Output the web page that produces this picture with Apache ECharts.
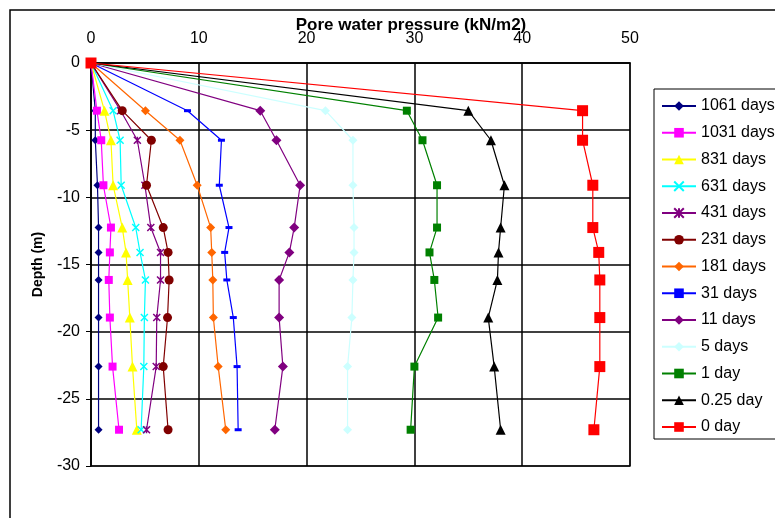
<!DOCTYPE html>
<html>
<head>
<meta charset="utf-8">
<script src="https://cdn.jsdelivr.net/npm/echarts@6/dist/echarts.min.js"></script>
<style>
html,body{margin:0;padding:0;background:#fff;}
#chart{width:775px;height:518px;}
</style>
</head>
<body>
<div id="chart"></div>
<script>
// Depths (m), shared by all series
var depths = [0, -3.55, -5.75, -9.1, -12.25, -14.1, -16.15, -18.95, -22.6, -27.3];

// Series names
var seriesNames = ['1061 days','1031 days','831 days','631 days','431 days','231 days','181 days','31 days','11 days','5 days','1 day','0.25 day','0 day'];

// Pore water pressure values (kN/m2) at each depth
var p1061 = [0, 0.4, 0.4, 0.6, 0.7, 0.7, 0.7, 0.7, 0.7, 0.7];
var p1031 = [0, 0.55, 0.95, 1.15, 1.85, 1.75, 1.65, 1.75, 2.0, 2.6];
var p831  = [0, 1.25, 1.85, 2.05, 2.9, 3.25, 3.4, 3.6, 3.85, 4.25];
var p631  = [0, 2.05, 2.7, 2.8, 4.15, 4.55, 5.05, 4.95, 4.9, 4.65];
var p431  = [0, 2.75, 4.3, 5.0, 5.55, 6.45, 6.45, 6.1, 6.05, 5.15];
var p231  = [0, 2.9, 5.6, 5.15, 6.7, 7.15, 7.25, 7.1, 6.7, 7.15];
var p181  = [0, 5.05, 8.25, 9.85, 11.1, 11.2, 11.3, 11.35, 11.8, 12.5];
var p31   = [0, 8.95, 12.1, 11.9, 12.8, 12.4, 12.6, 13.2, 13.55, 13.65];
var p11   = [0, 15.7, 17.2, 19.4, 18.85, 18.4, 17.45, 17.45, 17.8, 17.05];
var p5    = [0, 21.75, 24.3, 24.3, 24.4, 24.4, 24.3, 24.2, 23.8, 23.8];
var p1    = [0, 29.3, 30.75, 32.1, 32.1, 31.4, 31.85, 32.2, 30.0, 29.65];
var p025  = [0, 35.0, 37.1, 38.35, 38.0, 37.8, 37.7, 36.85, 37.4, 38.0];
var p0    = [0, 45.6, 45.6, 46.55, 46.55, 47.1, 47.2, 47.2, 47.2, 46.65];

// Axis ticks
var xTicks = [0, 10, 20, 30, 40, 50];
var yTicks = [0, -5, -10, -15, -20, -25, -30];

var xTitle = 'Pore water pressure (kN/m2)';
var yTitle = 'Depth (m)';

var values = [p1061, p1031, p831, p631, p431, p231, p181, p31, p11, p5, p1, p025, p0];
var colors = ['#000080','#FF00FF','#FFFF00','#00FFFF','#800080','#800000','#FF6600','#0000FF','#800080','#CCFFFF','#008000','#000000','#FF0000'];
var symbols = ['diamond','rect','triangle','path://M0,0L10,10M10,0L0,10','path://M0,0L10,10M10,0L0,10M5,0L5,10','circle','diamond','rect','diamond','diamond','rect','triangle','rect'];
var sizes = [8, 8, 10, 7, 7, 9, 9, [7,3], 10, 9, 8, 10, 11];

function pairs(v){ return v.map(function(x,i){ return [x, depths[i]]; }); }

var series = values.map(function(v, i){
  var stroke = (i === 3 || i === 4);
  return {
    name: seriesNames[i],
    type: 'line',
    data: pairs(v),
    symbol: symbols[i],
    symbolSize: sizes[i],
    showAllSymbol: true,
    lineStyle: {color: colors[i], width: 1.2},
    itemStyle: stroke ? {color: colors[i], borderColor: colors[i], borderWidth: 1.5} : {color: colors[i], borderWidth: 0},
    animation: false
  };
});

var chart = echarts.init(document.getElementById('chart'), null, {renderer: 'canvas'});
var fontFam = '"Liberation Sans", Arial, sans-serif';
chart.setOption({
  animation: false,
  backgroundColor: '#fff',
  graphic: [{
    type: 'rect', shape: {x: 10, y: 10, width: 800, height: 600},
    style: {fill: 'none', stroke: '#000', lineWidth: 1.5}, z: -10, silent: true
  }, {
    type: 'text', x: 411, y: 25, silent: true,
    style: {text: xTitle, fontFamily: fontFam, fontSize: 17, fontWeight: 'bold', fill: '#000', align: 'center', verticalAlign: 'middle'}
  }],
  grid: {left: 91, right: 145, top: 63, bottom: 52, show: true, borderColor: '#808080', borderWidth: 2, backgroundColor: '#fff'},
  xAxis: {
    type: 'value', position: 'top', min: xTicks[0], max: xTicks[xTicks.length-1], interval: 10,
    axisLine: {lineStyle: {color: '#000', width: 1.5}},
    axisTick: {show: false},
    axisLabel: {fontFamily: fontFam, fontSize: 16, color: '#000', margin: 16},
    splitLine: {show: true, lineStyle: {color: '#000', width: 1.5}}
  },
  yAxis: {
    type: 'value', min: yTicks[yTicks.length-1], max: yTicks[0], interval: 5,
    name: yTitle, nameLocation: 'middle', nameGap: 46, nameRotate: 90,
    nameTextStyle: {fontFamily: fontFam, fontSize: 14, fontWeight: 'bold', color: '#000'},
    axisLine: {lineStyle: {color: '#000', width: 1.5}},
    axisTick: {show: true, length: 5, lineStyle: {color: '#000'}},
    axisLabel: {fontFamily: fontFam, fontSize: 16, color: '#000', margin: 11},
    splitLine: {show: true, lineStyle: {color: '#000', width: 1.5}}
  },
  legend: {
    orient: 'vertical', left: 654, top: 89,
    padding: [9, 40, 4, 7],
    itemWidth: 34, itemHeight: 12, itemGap: 10.75,
    borderColor: '#000', borderWidth: 1,
    textStyle: {fontFamily: fontFam, fontSize: 16, lineHeight: 16, color: '#000'},
    data: seriesNames
  },
  series: series
});
</script>
</body>
</html>
